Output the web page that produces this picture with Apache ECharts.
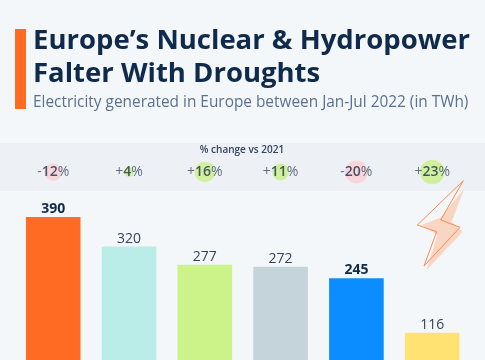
<!DOCTYPE html>
<html><head><meta charset="utf-8">
<style>html,body{margin:0;padding:0;background:#f4f7fa}#c{width:485px;height:360px}</style>
<script src="https://cdn.jsdelivr.net/npm/echarts@6/dist/echarts.min.js"></script></head>
<body><div id="c"></div>
<script>
const categories = ['Nuclear','Wind','Solar','Gas','Hydro','Coal'];
const generation = [390,320,277,272,245,116];
const barColors = ['#ff6b22','#baece8','#ccf28a','#c5d3da','#0b8cff','#ffe272'];
const boldBars = [true,false,false,false,true,false];
const changeSigns = ['-','+','+','+','-','+'];
const changeValues = [12,4,16,11,20,23];
const FONT = '"Open Sans"';
const DARK = '#0f2a4a', MID = '#33435f';
const chart = echarts.init(document.getElementById('c'), null, {renderer:'canvas'});
const boltOutline = [[463.3,180.7],[440.7,220],[460,227.3],[424,266],[436.7,231.7],[417.3,225]];
const boltFill = [[421.7,225],[440.7,217.7],[464.3,188.3],[451.7,221.7],[462.7,231.7],[426.7,270],[437.3,235]];
chart.setOption({
  backgroundColor:'#f4f7fa',
  animation:false,
  grid:[
    {left:15.3,top:217,width:454.8,height:164.7,outerBoundsMode:'none'},
    {left:15.3,top:152,width:454.8,height:40,outerBoundsMode:'none'}
  ],
  xAxis:[
    {type:'category',gridIndex:0,data:categories,show:false},
    {type:'category',gridIndex:1,data:categories,show:false}
  ],
  yAxis:[
    {type:'value',gridIndex:0,min:0,max:390,show:false},
    {type:'value',gridIndex:1,min:-1,max:1,show:false}
  ],
  graphic:[
    {type:'rect',z:0,silent:true,shape:{x:0,y:143,width:485,height:48},style:{fill:'#edf1f6'}},
    {type:'rect',shape:{x:15,y:29,width:11,height:80},style:{fill:'#ff6b22'}},
    {type:'text',x:33,y:27,style:{text:'Europe’s Nuclear & Hydropower',font:'700 27.5px '+FONT,fill:DARK}},
    {type:'text',x:33,y:60,style:{text:'Falter With Droughts',font:'700 27.5px '+FONT,fill:DARK}},
    {type:'text',x:33,y:95,style:{text:'Electricity generated in Europe between Jan-Jul 2022 (in TWh)',font:'400 15.4px '+FONT,fill:'#5a7090'}},
    {type:'text',x:242,y:145,style:{text:'% change vs 2021',font:'600 10px '+FONT,fill:MID,align:'center'}},
    {type:'polygon',shape:{points:boltFill},style:{fill:'#f9d6c4'}},
    {type:'polygon',shape:{points:boltOutline},style:{fill:'none',stroke:'#ff8a50',lineWidth:1}}
  ],
  series:[
    {type:'bar',xAxisIndex:0,yAxisIndex:0,barWidth:54.6,
     data:generation.map((v,i)=>({value:v,itemStyle:{color:barColors[i]},
       label:{fontWeight:boldBars[i]?700:400,color:boldBars[i]?DARK:MID}})),
     label:{show:true,position:'top',distance:1,fontFamily:FONT,fontSize:14}},
    {type:'scatter',xAxisIndex:1,yAxisIndex:1,
     data:changeValues.map((v,i)=>({value:[categories[i],0],
       symbolSize:5.1*Math.sqrt(v),
       itemStyle:{color:changeSigns[i]==='-'?'#f7d0d2':'#c9f08a'},
       label:{formatter:'{s|'+changeSigns[i]+'}{n|'+v+'}{s|%}'}})),
     label:{show:true,position:'inside',
       rich:{s:{fontFamily:FONT,fontSize:14,color:'#3c4b68'},
             n:{fontFamily:FONT,fontSize:14,fontWeight:600,color:'#1c2f4f'}}}}
  ]
});
</script></body></html>
